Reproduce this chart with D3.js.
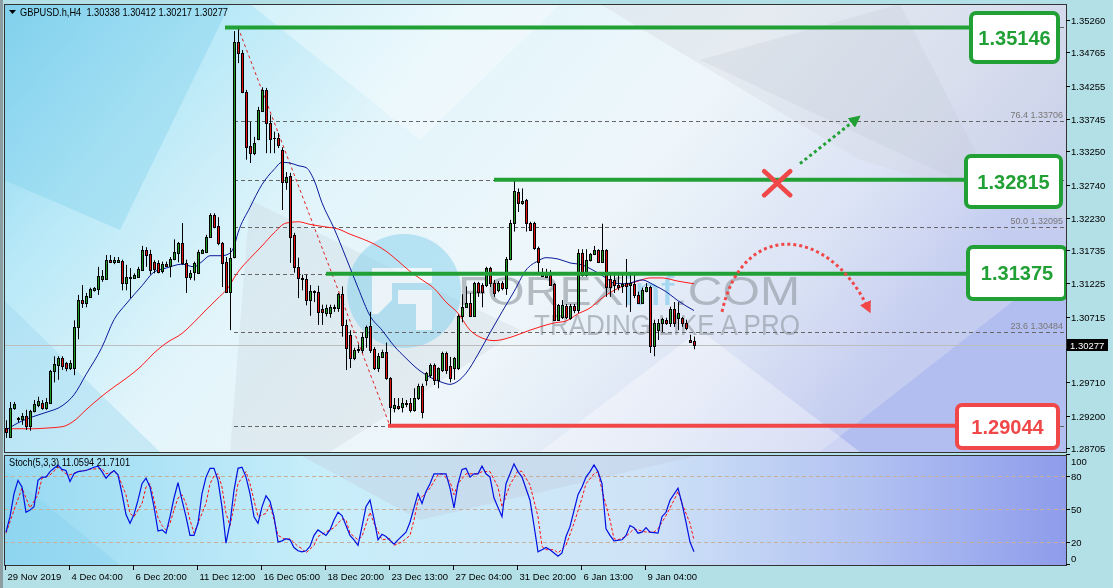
<!DOCTYPE html>
<html><head><meta charset="utf-8">
<script src="https://cdn.jsdelivr.net/npm/d3@7"></script>
<style>html,body{margin:0;padding:0;background:#b4e1e8;overflow:hidden}svg{display:block;font-family:"Liberation Sans",Arial,sans-serif}</style>
</head><body><div id="chart"></div>
<script>
// ---------------- DATA ----------------
const headerText = "GBPUSD.h,H4  1.30338 1.30412 1.30217 1.30277";
const stochText = "Stoch(5,3,3) 11.0594 21.7101";
const open = [1.2901,1.2887,1.2931,1.2916,1.2915,1.2919,1.2904,1.2927,1.2937,1.2940,
1.2932,1.2940,1.2988,1.2998,1.3009,1.3001,1.2993,1.2993,1.3056,1.3097,
1.3092,1.3102,1.3112,1.3114,1.3130,1.3130,1.3158,1.3156,1.3155,1.3157,
1.3123,1.3131,1.3131,1.3133,1.3143,1.3174,1.3168,1.3155,1.3154,1.3141,
1.3153,1.3149,1.3160,1.3169,1.3185,1.3154,1.3132,1.3140,1.3139,1.3169,
1.3171,1.3193,1.3227,1.3211,1.3185,1.3155,1.3109,1.3163,1.3492,1.3475,
1.3416,1.3333,1.3322,1.3344,1.3387,1.3419,1.3369,1.3345,1.3345,1.3327,
1.3278,1.3287,1.3196,1.3147,1.3131,1.3129,1.3097,1.3111,1.3110,1.3083,
1.3077,1.3077,1.3087,1.3085,1.3107,1.3059,1.3044,1.3009,1.3021,1.3021,
1.3041,1.3058,1.3022,1.2993,1.3010,1.3018,1.2978,1.2932,1.2935,1.2933,
1.2938,1.2940,1.2929,1.2947,1.2966,1.2975,1.2983,1.2997,1.2975,1.2990,
1.3016,1.2996,1.2993,1.2993,1.3072,1.3087,1.3093,1.3073,1.3123,1.3120,
1.3120,1.3146,1.3123,1.3112,1.3123,1.3116,1.3160,1.3215,1.3262,1.3246,
1.3250,1.3215,1.3215,1.3177,1.3134,1.3133,1.3136,1.3122,1.3067,1.3071,
1.3088,1.3070,1.3088,1.3082,1.3169,1.3136,1.3158,1.3167,1.3174,1.3156,
1.3174,1.3129,1.3128,1.3120,1.3119,1.3123,1.3120,1.3122,1.3105,1.3093,
1.3111,1.3117,1.3027,1.3051,1.3062,1.3067,1.3062,1.3083,1.3070,1.3070,
1.3062,1.3036,1.30338];
const high = [1.2913,1.2941,1.2941,1.2918,1.2924,1.2929,1.2929,1.2944,1.2949,1.2944,
1.2947,1.2990,1.3011,1.3011,1.3011,1.3002,1.3005,1.3066,1.3105,1.3120,
1.3108,1.3116,1.3117,1.3148,1.3143,1.3166,1.3166,1.3163,1.3163,1.3159,
1.3151,1.3146,1.3138,1.3148,1.3180,1.3178,1.3174,1.3158,1.3158,1.3156,
1.3156,1.3163,1.3190,1.3186,1.3215,1.3159,1.3143,1.3156,1.3174,1.3175,
1.3197,1.3230,1.3230,1.3224,1.3186,1.3163,1.3177,1.3509,1.35146,1.3480,
1.3419,1.3370,1.3347,1.3393,1.3423,1.3422,1.3381,1.3355,1.3353,1.3331,
1.3293,1.3292,1.3200,1.3162,1.3136,1.3136,1.3120,1.3112,1.3119,1.3090,
1.3090,1.3090,1.3090,1.3108,1.3118,1.3067,1.3051,1.3024,1.3029,1.3047,
1.3058,1.3079,1.3025,1.3016,1.3021,1.3032,1.2979,1.2947,1.2947,1.2947,
1.2944,1.2947,1.2962,1.2969,1.2969,1.2987,1.3000,1.3000,1.2994,1.3018,
1.3018,1.3010,1.3010,1.3075,1.3106,1.3118,1.3108,1.3125,1.3125,1.3123,
1.3148,1.3148,1.3128,1.3126,1.3126,1.3163,1.3220,1.32815,1.3268,1.3268,
1.3252,1.3217,1.3217,1.3179,1.3146,1.3145,1.3143,1.3123,1.3091,1.3097,
1.3091,1.3091,1.3091,1.3175,1.3175,1.3175,1.3169,1.3180,1.3175,1.3214,
1.3175,1.3139,1.3136,1.3136,1.3136,1.3160,1.3136,1.3136,1.3110,1.3116,
1.3123,1.3119,1.3067,1.3068,1.3070,1.3070,1.3087,1.3094,1.3094,1.3071,
1.3067,1.3044,1.30412];
const low = [1.2886,1.2886,1.2929,1.2910,1.2906,1.2898,1.2897,1.2925,1.2933,1.2929,
1.2929,1.2939,1.2971,1.2975,1.2990,1.2988,1.2990,1.2982,1.3037,1.3085,
1.3086,1.3102,1.3110,1.3105,1.3125,1.3128,1.3154,1.3152,1.3154,1.3112,
1.3112,1.3100,1.3131,1.3132,1.3142,1.3148,1.3136,1.3138,1.3138,1.3138,
1.3148,1.3132,1.3158,1.3155,1.3151,1.3108,1.3128,1.3127,1.3139,1.3168,
1.3169,1.3193,1.3207,1.3181,1.3117,1.3108,1.3051,1.3161,1.3460,1.3414,
1.3312,1.3307,1.3319,1.3342,1.3385,1.3322,1.3322,1.3322,1.3330,1.3235,
1.3266,1.3154,1.3139,1.3100,1.3112,1.3089,1.3073,1.3094,1.3059,1.3059,
1.3072,1.3070,1.3079,1.3079,1.3041,1.2990,1.2993,1.3005,1.3016,1.3016,
1.3024,1.3016,1.2990,1.2987,1.3009,1.2975,1.29044,1.2925,1.2929,1.2925,
1.2933,1.2925,1.2926,1.2944,1.2916,1.2966,1.2978,1.2967,1.2962,1.2987,
1.2984,1.2971,1.2975,1.2990,1.3063,1.3085,1.3072,1.3072,1.3102,1.3086,
1.3117,1.3117,1.3102,1.3109,1.3112,1.3105,1.3158,1.3202,1.3232,1.3243,
1.3202,1.3203,1.3174,1.3136,1.3133,1.3131,1.3119,1.3065,1.3065,1.3068,
1.3068,1.3067,1.3077,1.3077,1.3133,1.3133,1.3156,1.3166,1.3154,1.3154,
1.3102,1.3102,1.3108,1.3112,1.3108,1.3086,1.3079,1.3100,1.3091,1.3091,
1.3109,1.3016,1.3011,1.3036,1.3048,1.3059,1.3056,1.3056,1.3051,1.3056,
1.3051,1.3032,1.30217];
const close = [1.2895,1.2932,1.2938,1.2915,1.2919,1.2904,1.2927,1.2938,1.2943,1.2932,
1.2941,1.2988,1.2999,1.3009,1.2996,1.2993,1.3001,1.3056,1.3097,1.3092,
1.3103,1.3114,1.3116,1.3134,1.3134,1.3158,1.3155,1.3158,1.3158,1.3123,
1.3132,1.3133,1.3136,1.3145,1.3174,1.3166,1.3143,1.3145,1.3140,1.3153,
1.3150,1.3160,1.3171,1.3185,1.3154,1.3132,1.3139,1.3154,1.3171,1.3174,
1.3193,1.3227,1.3209,1.3185,1.3154,1.3109,1.3161,1.3492,1.3475,1.3416,
1.3331,1.3322,1.3338,1.3388,1.3419,1.3369,1.3344,1.3346,1.3335,1.3278,
1.3286,1.3194,1.3147,1.3131,1.3129,1.3097,1.3111,1.3109,1.3079,1.3079,
1.3085,1.3087,1.3085,1.3107,1.3059,1.3024,1.3009,1.3021,1.3022,1.3041,
1.3056,1.3021,1.2993,1.3011,1.3018,1.2978,1.2933,1.2937,1.2932,1.2940,
1.2940,1.2929,1.2947,1.2966,1.2925,1.2985,1.2997,1.2975,1.2993,1.3016,
1.2990,1.2978,1.3008,1.3072,1.3087,1.3093,1.3073,1.3123,1.3110,1.3110,
1.3146,1.3123,1.3108,1.3123,1.3116,1.3160,1.3215,1.3264,1.3246,1.3249,
1.3215,1.3204,1.3177,1.3156,1.3139,1.3137,1.3120,1.3067,1.3090,1.3090,
1.3071,1.3088,1.3082,1.3169,1.3136,1.3158,1.3167,1.3174,1.3156,1.3174,
1.3117,1.3117,1.3120,1.3117,1.3122,1.3119,1.3123,1.3105,1.3093,1.3112,
1.3117,1.3027,1.3062,1.3062,1.3068,1.3062,1.3083,1.3062,1.3077,1.3062,
1.3054,1.3033,1.30277];
// moving averages: [bar, price]
const maFast = [[0,1.2898],[4,1.2912],[7,1.2919],[10,1.2925],[14,1.2935],[17,1.2952],[20,1.2983],[24,1.3025],[27,1.3067],[30,1.3091],[34,1.3119],[37,1.3140],[40,1.3146],[44,1.3152],[47,1.3148],[49,1.3156],[51,1.3165],[54,1.3165],[56,1.3169],[57,1.3179],[58,1.3200],[61,1.3239],[64,1.3274],[67,1.3297],[69,1.3308],[71,1.3307],[73,1.3303],[75,1.3300],[77,1.3281],[79,1.3246],[82,1.3207],[85,1.3162],[88,1.3116],[91,1.3073],[94,1.3051],[97,1.3027],[100,1.3008],[103,1.2991],[106,1.2979],[109,1.2971],[111,1.2968],[113,1.2973],[115,1.2985],[118,1.3014],[121,1.3047],[124,1.3079],[127,1.3110],[130,1.3143],[133,1.3157],[135,1.3162],[138,1.3160],[141,1.3154],[144,1.3151],[147,1.3142],[150,1.3131],[152,1.3123],[155,1.3122],[159,1.3128],[162,1.3120],[165,1.3110],[168,1.3096],[172,1.3081]];
const maSlow = [[0,1.2900],[7,1.2900],[10,1.2901],[14,1.2903],[17,1.2912],[20,1.2929],[24,1.2950],[27,1.2964],[30,1.2977],[34,1.2997],[37,1.3016],[40,1.3031],[44,1.3046],[47,1.3063],[50,1.3082],[53,1.3100],[56,1.3120],[57,1.3131],[58,1.3140],[61,1.3161],[64,1.3180],[67,1.3200],[70,1.3215],[73,1.3217],[76,1.3213],[80,1.3209],[83,1.3206],[86,1.3198],[89,1.3191],[92,1.3183],[95,1.3172],[98,1.3157],[101,1.3141],[104,1.3128],[107,1.3115],[110,1.3094],[113,1.3077],[116,1.3051],[119,1.3039],[122,1.3035],[125,1.3038],[128,1.3044],[131,1.3051],[134,1.3057],[137,1.3062],[140,1.3065],[143,1.3076],[146,1.3085],[149,1.3100],[152,1.3112],[155,1.3120],[158,1.3126],[161,1.3131],[164,1.3131],[168,1.3126],[172,1.3122]];
// stochastic: [bar, value]
const stochK = [[0,29],[1,43],[2,64],[3,76],[4,70],[5,47],[6,49],[7,52],[8,76],[9,79],[10,79],[11,84],[12,87],[13,90],[14,86],[15,85],[16,75],[17,82],[18,84],[20,85],[22,88],[23,89],[24,84],[25,78],[26,82],[27,85],[28,81],[29,64],[30,45],[31,37],[32,45],[33,58],[34,73],[35,78],[36,70],[37,52],[38,30],[39,31],[40,28],[41,43],[42,60],[43,74],[44,58],[45,43],[46,26],[47,26],[48,37],[49,64],[50,79],[51,87],[52,87],[53,76],[54,52],[55,19],[56,37],[57,67],[58,87],[59,88],[60,79],[61,64],[62,43],[63,37],[64,52],[65,62],[66,57],[67,43],[68,20],[69,21],[70,23],[71,22],[72,15],[73,12],[74,11],[75,12],[76,16],[77,26],[78,31],[80,26],[81,31],[82,40],[83,47],[84,44],[86,26],[87,22],[88,17],[89,34],[90,52],[91,58],[92,41],[93,22],[94,27],[95,25],[97,18],[98,22],[100,29],[101,38],[102,51],[103,64],[104,55],[105,66],[106,73],[107,82],[108,82],[110,82],[111,69],[112,51],[113,73],[114,86],[115,87],[116,79],[117,82],[118,82],[119,89],[120,82],[121,79],[122,60],[124,43],[125,73],[127,91],[128,84],[129,79],[131,58],[132,35],[133,11],[134,13],[135,15],[136,13],[138,7],[139,10],[140,25],[141,34],[143,63],[144,70],[145,79],[146,84],[147,90],[148,84],[149,73],[150,32],[151,26],[152,21],[154,22],[155,26],[156,35],[157,33],[158,28],[159,29],[160,33],[161,29],[163,28],[164,43],[165,47],[166,58],[168,69],[169,55],[170,38],[171,20],[172,11.0594]];
const stochD = [[0,28],[2,49],[4,69],[5,60],[6,51],[8,63],[9,78],[11,81],[13,88],[15,82],[16,81],[18,84],[21,86],[24,87],[25,82],[27,84],[28,81],[30,63],[31,46],[32,43],[34,55],[35,70],[36,73],[37,58],[38,42],[39,35],[40,31],[41,37],[42,49],[43,60],[44,63],[45,55],[46,40],[47,28],[48,37],[50,55],[51,73],[52,80],[53,82],[54,70],[55,46],[56,35],[57,52],[58,73],[60,84],[61,73],[62,58],[63,43],[65,46],[66,54],[67,40],[68,26],[70,22],[71,23],[73,16],[74,14],[75,10],[77,17],[78,25],[80,29],[82,33],[84,41],[85,40],[86,28],[88,22],[89,25],[91,47],[92,37],[94,22],[96,23],[97,17],[99,20],[101,26],[102,40],[103,58],[104,61],[106,69],[108,81],[109,82],[111,75],[112,63],[113,73],[115,82],[118,82],[119,84],[121,84],[123,70],[124,52],[126,72],[128,85],[129,84],[131,72],[133,43],[134,16],[135,13],[137,13],[138,10],[140,17],[142,37],[144,60],[145,73],[147,82],[148,84],[149,67],[151,40],[152,23],[153,22],[155,25],[157,32],[158,31],[160,29],[162,29],[163,32],[165,44],[167,58],[168,66],[169,55],[171,37],[172,21.7101]];
const priceTicks = [1.35260,1.34765,1.34255,1.33745,1.33250,1.32740,1.32230,1.31735,1.31225,1.30715,1.30220,1.29710,1.29200,1.28705];
const lastPrice = 1.30277;
const stochTicks = [100,80,50,20,0];
const stochLevels = [80,50,20];
const timeLabels = ["29 Nov 2019","4 Dec 04:00","6 Dec 20:00","11 Dec 12:00","16 Dec 05:00","18 Dec 20:00","23 Dec 13:00","27 Dec 04:00","31 Dec 20:00","6 Jan 13:00","9 Jan 04:00"];
const timeLabelBars = [0,16,32,48,64,80,96,112,128,144,160];
// fibonacci retracement (from swing high bar 58 to swing low bar 96)
const fibLevels = ["0.0","23.6","38.2","50.0","61.8","76.4","100.0"];
const fibPrices = [1.29044,1.30484,1.31375,1.32095,1.32815,1.33706,1.35146];
const fibLabelShown = [false,true,false,true,false,true,false];
const fibSwing = [[58,1.35146],[96,1.29044]];
// key levels with boxes
const keyLevels = [1.35146,1.32815,1.31375,1.29044];
const keyLevelStartBar = [54.75,122,80,95.5];
const keyLevelColor = ["#21a035","#21a035","#21a035","#f04848"];
// annotations (in bar / price units)
const upArrow = [[198.5,1.3306],[212.5,1.3374]];
const crossAt = [192.8,1.3276];
const dropArc = [[179,1.3079],[196,1.3174],[215.5,1.3085]];

// ---------------- LAYOUT ----------------
const W=1113,H=588;
const P={l:4,r:1066,t:4,b:452};
const S={t:455,b:565};
const x = d3.scaleLinear().domain([0,172]).range([6,694]);
const y = d3.scaleLinear().domain([1.28705,1.35260]).range([448,20]);
const ys = d3.scaleLinear().domain([0,100]).range([564,454]);

const svg = d3.select("#chart").append("svg").attr("width",W).attr("height",H);
const defs = svg.append("defs");
function grad(id,stops,x2,y2){const g=defs.append("linearGradient").attr("id",id).attr("x1",0).attr("y1",0).attr("x2",x2).attr("y2",y2);
 stops.forEach(s=>g.append("stop").attr("offset",s[0]).attr("stop-color",s[1]));}
grad("gMain",[[0,"#84d2ee"],[0.18,"#b6e8f7"],[0.4,"#e3f5fb"],[0.65,"#eef6fa"],[0.85,"#dbe3f5"],[1,"#c4ccf0"]],1,0.35);
grad("gSto",[[0,"#96d9f2"],[0.3,"#c8eefa"],[0.6,"#cfe3f7"],[0.8,"#b4c4f2"],[1,"#8e9ceb"]],1,0);
defs.append("clipPath").attr("id","cMain").append("rect").attr("x",P.l).attr("y",P.t).attr("width",P.r-P.l).attr("height",P.b-P.t);
defs.append("clipPath").attr("id","cSto").append("rect").attr("x",P.l).attr("y",S.t).attr("width",P.r-P.l).attr("height",S.b-S.t);

svg.append("rect").attr("width",W).attr("height",H).attr("fill","#b3e0e7");
svg.append("rect").attr("x",0).attr("y",0).attr("width",3).attr("height",H).attr("fill","#8c9ea2");
// main panel background
const gm = svg.append("g").attr("clip-path","url(#cMain)");
gm.append("rect").attr("x",P.l).attr("y",P.t).attr("width",P.r-P.l).attr("height",P.b-P.t).attr("fill","url(#gMain)");
const shapes=[
 {p:[[4,4],[230,4],[120,230],[4,180]],c:"#7ccdec",o:0.35},
 {p:[[250,4],[560,4],[420,140]],c:"#ffffff",o:0.35},
 {p:[[250,200],[520,330],[330,452],[230,452]],c:"#c8d2dc",o:0.3},
 {p:[[600,4],[1066,4],[1066,220],[860,160]],c:"#d4d8e0",o:0.35},
 {p:[[700,60],[900,4],[1000,200]],c:"#c0c6d4",o:0.25},
 {p:[[820,452],[1066,260],[1066,452]],c:"#9fb0ee",o:0.5},
 {p:[[540,452],[700,330],[860,452]],c:"#ffffff",o:0.35},
 {p:[[4,300],[160,452],[4,452]],c:"#9ad8f0",o:0.4}];
shapes.forEach(s=>gm.append("polygon").attr("points",s.p.map(q=>q.join(",")).join(" ")).attr("fill",s.c).attr("opacity",s.o));

// watermark
const wm = gm.append("g").attr("opacity",0.6);
wm.append("circle").attr("cx",404).attr("cy",291).attr("r",57).attr("fill","#86d0ec").attr("opacity",0.85);
wm.append("path").attr("d","M372,268 L432,268 L432,283 L392,283 L392,300 L378,314 L372,314 Z M398,290 L432,290 L432,330 L416,330 L416,304 L398,304 Z").attr("fill","#ffffff").attr("opacity",0.9);
const t1 = wm.append("text").attr("x",458).attr("y",305).attr("font-size",40).attr("fill","#8e979f").attr("textLength",342).attr("lengthAdjust","spacingAndGlyphs");
t1.append("tspan").text("FOREX");
t1.append("tspan").attr("fill","#7cc8ea").text("inf");
t1.append("tspan").text(".COM");
wm.append("text").attr("x",534).attr("y",335).attr("font-size",29).attr("fill","#8e979f").attr("textLength",266).attr("lengthAdjust","spacingAndGlyphs").text("TRADING LIKE A PRO");

// fib dashed lines
fibPrices.forEach((p,i)=>{
 gm.append("line").attr("x1",x(57)).attr("x2",P.r).attr("y1",Math.round(y(p))+0.5).attr("y2",Math.round(y(p))+0.5)
  .attr("stroke","#666").attr("stroke-width",1).attr("stroke-dasharray","4,3");
 if(fibLabelShown[i]) gm.append("text").attr("x",1063).attr("y",Math.round(y(p))-3).attr("text-anchor","end")
  .attr("font-size",9).attr("fill","#777").text(fibLevels[i]+" "+p.toFixed(5));
});
// fib swing line
gm.append("line").attr("x1",x(fibSwing[0][0])).attr("y1",y(fibSwing[0][1])).attr("x2",x(fibSwing[1][0])).attr("y2",y(fibSwing[1][1]))
 .attr("stroke","#e02020").attr("stroke-width",1).attr("stroke-dasharray","3,3");
// bid line
gm.append("line").attr("x1",P.l).attr("x2",P.r).attr("y1",Math.round(y(lastPrice))+0.5).attr("y2",Math.round(y(lastPrice))+0.5).attr("stroke","#bdbdbd");

// moving averages
const maLine = d3.line().x(d=>x(d[0])).y(d=>y(d[1])).curve(d3.curveMonotoneX);
gm.append("path").attr("d",maLine(maSlow)).attr("fill","none").attr("stroke","#ff1a1a").attr("stroke-width",1);
gm.append("path").attr("d",maLine(maFast)).attr("fill","none").attr("stroke","#0a1a9a").attr("stroke-width",1);

// candles
const bars = d3.range(open.length).map(i=>({i,o:open[i],h:high[i],l:low[i],c:close[i]}));
const cg = gm.append("g");
bars.forEach(d=>{
 const cx = Math.round(x(d.i))+0.5;
 cg.append("line").attr("x1",cx).attr("x2",cx).attr("y1",y(d.h)).attr("y2",y(d.l)).attr("stroke","#000").attr("stroke-width",1);
 const yt=Math.round(y(Math.max(d.o,d.c))), yb=Math.round(y(Math.min(d.o,d.c)));
 if(yb-yt<1){cg.append("line").attr("x1",cx-1.5).attr("x2",cx+1.5).attr("y1",yt+0.5).attr("y2",yt+0.5).attr("stroke","#000");}
 else cg.append("rect").attr("x",cx-1).attr("y",yt+0.5).attr("width",2).attr("height",yb-yt)
   .attr("fill",d.c>d.o?"#1f9a1f":"#e01010").attr("stroke","#000").attr("stroke-width",1);
});

// key levels and boxes
const boxes=[[971,1058,13,62],[966,1061,156,207],[968,1066,247,299],[957,1058,405,448]];
keyLevels.forEach((p,i)=>{
 const ly = y(p);
 const b=boxes[i];
 gm.append("line").attr("x1",x(keyLevelStartBar[i])).attr("x2",b[0]).attr("y1",ly).attr("y2",ly).attr("stroke",keyLevelColor[i]).attr("stroke-width",4);
 gm.append("rect").attr("x",b[0]).attr("y",b[2]).attr("width",b[1]-b[0]).attr("height",b[3]-b[2]).attr("rx",5)
  .attr("fill","#ffffff").attr("stroke",keyLevelColor[i]).attr("stroke-width",4);
 gm.append("text").attr("x",(b[0]+b[1])/2).attr("y",(b[2]+b[3])/2+7).attr("text-anchor","middle")
  .attr("font-size",20).attr("font-weight","bold").attr("fill",keyLevelColor[i]).text(p.toFixed(5));
});

// annotations
defs.append("marker").attr("id","mG").attr("viewBox","0 0 10 10").attr("refX",5).attr("refY",5).attr("markerWidth",4).attr("markerHeight",4).attr("orient","auto")
 .append("path").attr("d","M0,0 L10,5 L0,10 Z").attr("fill","#21a035");
defs.append("marker").attr("id","mR").attr("viewBox","0 0 10 10").attr("refX",5).attr("refY",5).attr("markerWidth",4).attr("markerHeight",4).attr("orient","auto")
 .append("path").attr("d","M0,0 L10,5 L0,10 Z").attr("fill","#f04848");
gm.append("line").attr("x1",x(upArrow[0][0])).attr("y1",y(upArrow[0][1])).attr("x2",x(upArrow[1][0])).attr("y2",y(upArrow[1][1]))
 .attr("stroke","#21a035").attr("stroke-width",3).attr("stroke-dasharray","3,3").attr("marker-end","url(#mG)");
const cxX=x(crossAt[0]), cyX=y(crossAt[1]);
gm.append("path").attr("d",`M${cxX-13},${cyX-12}L${cxX+13},${cyX+12}M${cxX+13},${cyX-12}L${cxX-13},${cyX+12}`)
 .attr("stroke","#f04848").attr("stroke-width",4.5).attr("stroke-linecap","round");
const a0=dropArc[0],a1=dropArc[1],a2=dropArc[2];
gm.append("path").attr("d",`M${x(a0[0])},${y(a0[1])} C${x(a0[0])+20},${y(a1[1])-30} ${x(a2[0])-40},${y(a1[1])-25} ${x(a2[0])},${y(a2[1])}`)
 .attr("fill","none").attr("stroke","#f04848").attr("stroke-width",3).attr("stroke-dasharray","3,3").attr("marker-end","url(#mR)");

// main border
svg.append("rect").attr("x",P.l+0.5).attr("y",P.t+0.5).attr("width",P.r-P.l).attr("height",P.b-P.t).attr("fill","none").attr("stroke","#333");
// header
svg.append("path").attr("d","M9,10 L16,10 L12.5,14 Z").attr("fill","#000");
svg.append("text").attr("x",20).attr("y",16).attr("font-size",10.5).attr("fill","#000").attr("xml:space","preserve")
 .attr("textLength",208).attr("lengthAdjust","spacingAndGlyphs").text(headerText);

// right price axis (the label hidden under the last-price box is not drawn)
const ly=Math.round(y(lastPrice));
priceTicks.forEach(p=>{
 const ty=Math.round(y(p))+0.5;
 svg.append("line").attr("x1",P.r).attr("x2",P.r+4).attr("y1",ty).attr("y2",ty).attr("stroke","#000");
 if(Math.abs(ty-ly)>10) svg.append("text").attr("x",1071).attr("y",ty+3.5).attr("font-size",9.5).attr("fill","#000").text(p.toFixed(5));
});
svg.append("rect").attr("x",1067).attr("y",ly-6).attr("width",41).attr("height",12).attr("fill","#000");
svg.append("text").attr("x",1070).attr("y",ly+3.5).attr("font-size",9.5).attr("fill","#fff").text(lastPrice.toFixed(5));

// stochastic panel
const gs = svg.append("g").attr("clip-path","url(#cSto)");
gs.append("rect").attr("x",P.l).attr("y",S.t).attr("width",P.r-P.l).attr("height",S.b-S.t).attr("fill","url(#gSto)");
gs.append("polygon").attr("points","300,455 700,455 420,520").attr("fill","#c0c8dc").attr("opacity",0.35);
gs.append("polygon").attr("points","4,470 120,565 4,565").attr("fill","#7fcdec").attr("opacity",0.3);
stochLevels.forEach(v=>gs.append("line").attr("x1",P.l).attr("x2",P.r).attr("y1",Math.round(ys(v))+0.5).attr("y2",Math.round(ys(v))+0.5)
 .attr("stroke","#c9ae98").attr("stroke-dasharray","4,3"));
const sl = d3.line().x(d=>x(d[0])).y(d=>ys(d[1]));
gs.append("path").attr("d",sl(stochD)).attr("fill","none").attr("stroke","#ff1010").attr("stroke-width",1).attr("stroke-dasharray","3,2");
gs.append("path").attr("d",sl(stochK)).attr("fill","none").attr("stroke","#0010e0").attr("stroke-width",1.2);
svg.append("rect").attr("x",P.l+0.5).attr("y",S.t+0.5).attr("width",P.r-P.l).attr("height",S.b-S.t).attr("fill","none").attr("stroke","#333");
svg.append("text").attr("x",9).attr("y",466).attr("font-size",10).attr("fill","#000")
 .attr("textLength",121).attr("lengthAdjust","spacingAndGlyphs").text(stochText);
stochTicks.forEach(v=>{
 const ty = v===100?461:(v===0?558:Math.round(ys(v)));
 svg.append("line").attr("x1",P.r).attr("x2",P.r+4).attr("y1",Math.round(ys(v))+0.5).attr("y2",Math.round(ys(v))+0.5).attr("stroke","#000");
 svg.append("text").attr("x",1071).attr("y",ty+3.5).attr("font-size",9.5).attr("fill","#000").text(v);
});

// time axis
timeLabels.forEach((t,i)=>{
 const tx=Math.round(x(timeLabelBars[i]))-0.5;
 svg.append("line").attr("x1",tx).attr("x2",tx).attr("y1",S.b).attr("y2",S.b+5).attr("stroke","#000");
 svg.append("text").attr("x",tx+2).attr("y",580).attr("font-size",9.5).attr("fill","#000").text(t);
});
</script></body></html>
